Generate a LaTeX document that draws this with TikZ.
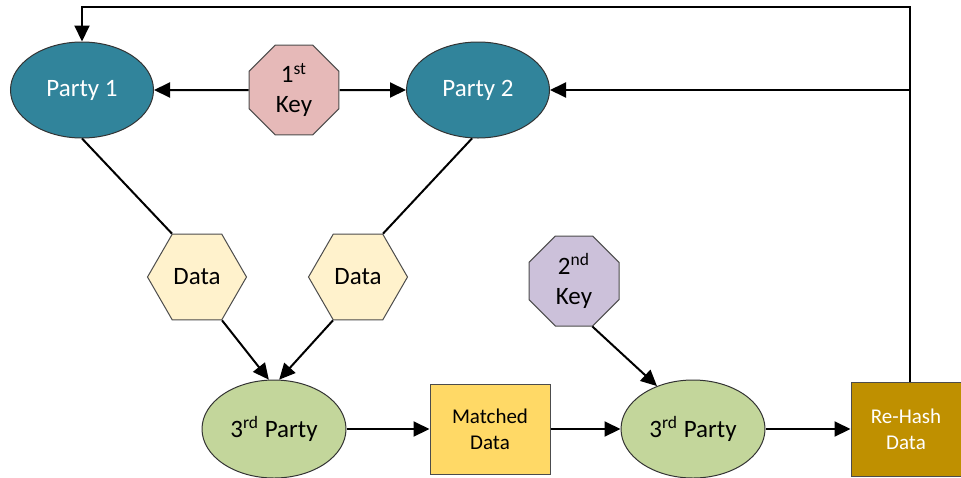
\documentclass[tikz,border=0pt]{standalone}
\usepackage{fontspec}
\setmainfont{Carlito}
\usetikzlibrary{shapes.geometric,arrows.meta}

\definecolor{partyteal}{HTML}{31849B}
\definecolor{keyrose}{HTML}{E6B9B8}
\definecolor{keylilac}{HTML}{CCC1DA}
\definecolor{datacream}{HTML}{FFF2CC}
\definecolor{thirdgreen}{HTML}{C3D69B}
\definecolor{matchgold}{HTML}{FFD966}
\definecolor{hashbrown}{HTML}{BF9000}

\tikzset{
    every node/.style={font=\fontsize{12.5}{15}\selectfont, align=center, inner sep=0pt},
    party/.style={ellipse, draw=black!80, line width=0.5pt, fill=partyteal, text=white,
        minimum width=71.5pt, minimum height=48pt},
    keybox/.style={regular polygon, regular polygon sides=8, draw=black!70, line width=0.5pt,
        minimum size=48.7pt},
    datahex/.style={regular polygon, regular polygon sides=6, draw=black!70, line width=0.5pt,
        fill=datacream, minimum size=49.5pt},
    third/.style={ellipse, draw=black!80, line width=0.5pt, fill=thirdgreen,
        minimum width=72pt, minimum height=49pt},
    databox/.style={rectangle, draw=black!70, line width=0.5pt,
        font=\fontsize{10.5}{13}\selectfont},
    arr/.style={line width=1pt, -{Triangle[length=8pt,width=7.5pt]}},
    plain/.style={line width=1pt}
}

\begin{document}
\begin{tikzpicture}[x=0.5pt, y=-0.5pt]
    \useasboundingbox (0,0) rectangle (961,477);

    % top row
    \node[party] (p1) at (82,90) {Party 1};
    \node[party] (p2) at (478,90) {Party 2};
    \node[keybox, fill=keyrose] (key1) at (294,90) {1\textsuperscript{st}\\Key};

    % data hexagons
    \node[datahex] (dL) at (197,277) {Data};
    \node[datahex] (dR) at (358,277) {Data};
    \node[keybox, fill=keylilac] (key2) at (574,281) {2\textsuperscript{nd}\\Key};

    % bottom row
    \node[third] (tp1) at (274,429) {3\textsuperscript{rd} Party};
    \node[databox, fill=matchgold, minimum width=60pt, minimum height=45pt] (md) at (490,429) {Matched\\Data};
    \node[third] (tp2) at (693,429) {3\textsuperscript{rd} Party};
    \node[databox, fill=hashbrown, text=white, minimum width=55pt, minimum height=47pt] (rh) at (906,429) {Re-Hash\\Data};

    \coordinate (top) at (910,7);

    % connectors
    \draw[arr] (key1) -- (p1);
    \draw[arr] (key1) -- (p2);
    \draw[plain] (p1.south) -- (dL.120);
    \draw[plain] (p2.-97) -- (dR.60);
    \draw[arr] (dL.300) -- (tp1.96);
    \draw[arr] (dR.240) -- (tp1.84);
    \draw[arr] (key2.292.5) -- (tp2.130);
    \draw[arr] (tp1) -- (md);
    \draw[arr] (md) -- (tp2);
    \draw[arr] (tp2) -- (rh);
    \draw[arr] (rh.north -| top) -- (top) -| (p1.north);
    \draw[arr] (top |- p2) -- (p2.east);
\end{tikzpicture}
\end{document}
